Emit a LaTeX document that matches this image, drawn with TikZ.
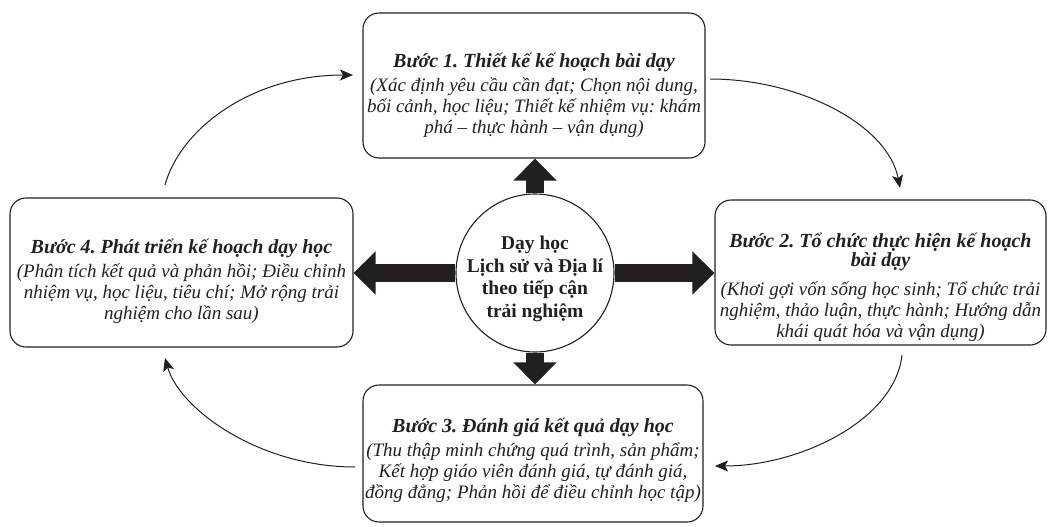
\documentclass[tikz,border=0pt]{standalone}
\usepackage{fontspec}
\setmainfont{Liberation Serif}
\usetikzlibrary{arrows.meta}
\definecolor{ink}{HTML}{231F20}
\frenchspacing
\newcommand{\steptitle}[1]{{\bfseries\fontsize{20}{21}\selectfont #1}}
\tikzset{
  stepbox/.style={draw=ink, line width=1.1pt, rounded corners=16pt, inner sep=0pt},
  steptext/.style={align=center, inner sep=0pt, text=ink,
    font=\itshape\fontsize{19}{21}\selectfont},
  hub/.style={circle, draw=ink, line width=1.1pt, minimum size=158pt, inner sep=0pt},
  hubtext/.style={align=center, inner sep=0pt, text=ink,
    font=\bfseries\fontsize{19.5}{22.5}\selectfont},
  block/.style={ink, line width=18pt, -{Triangle[width=42pt,length=22pt]}},
  flow/.style={ink, line width=1pt, -{Stealth[length=13pt,width=11pt,inset=3pt]}},
}
\begin{document}
\begin{tikzpicture}[x=1pt,y=-1pt]
\useasboundingbox (0,0) rectangle (1049,527);

\node[stepbox, minimum width=342pt, minimum height=145pt] (s1) at (534,85.5) {};
\node[steptext] (t1) at (534,95)
  {\steptitle{Bước 1. Thiết kế kế hoạch bài dạy}\\[3pt]
   (Xác định yêu cầu cần đạt; Chọn nội dung,\\
   bối cảnh, học liệu; Thiết kế nhiệm vụ: khám\\
   phá – thực hành – vận dụng)};

\node[stepbox, minimum width=331pt, minimum height=145pt] (s2) at (880.5,272.5) {};
\node[steptext] (t2) at (880.5,287)
  {\steptitle{Bước 2. Tổ chức thực hiện kế hoạch}\\[-2pt]
   \steptitle{bài dạy}\\[8pt]
   (Khơi gợi vốn sống học sinh; Tổ chức trải\\
   nghiệm, thảo luận, thực hành; Hướng dẫn\\
   khái quát hóa và vận dụng)};

\node[stepbox, minimum width=340pt, minimum height=137pt] (s3) at (533,453.5) {};
\node[steptext] (t3) at (533,460)
  {\steptitle{Bước 3. Đánh giá kết quả dạy học}\\[3pt]
   (Thu thập minh chứng quá trình, sản phẩm;\\
   Kết hợp giáo viên đánh giá, tự đánh giá,\\
   đồng đẳng; Phản hồi để điều chỉnh học tập)};

\node[stepbox, minimum width=343pt, minimum height=149pt] (s4) at (181.5,272.5) {};
\node[steptext] (t4) at (181.5,281)
  {\steptitle{Bước 4. Phát triển kế hoạch dạy học}\\[3pt]
   (Phân tích kết quả và phản hồi; Điều chỉnh\\
   nhiệm vụ, học liệu, tiêu chí; Mở rộng trải\\
   nghiệm cho lần sau)};

\node[hub] (hub) at (535,273) {};
\node[hubtext] (ht) at (535,279)
  {Dạy học\\ Lịch sử và Địa lí\\ theo tiếp cận\\ trải nghiệm};

\draw[block] (hub.north) -- (hub.north |- s1.south);
\draw[block] (hub.south) -- (hub.south |- s3.north);
\draw[block] (hub.west) -- (hub.west -| s4.east);
\draw[block] (hub.east) -- (hub.east -| s2.west);

\coordinate (c1s) at (165,185);
\coordinate (c1e) at (353,75);
\coordinate (c2s) at (710,79);
\coordinate (c2e) at (900,188);
\coordinate (c3s) at (902,355);
\coordinate (c3e) at (715,466);
\coordinate (c4s) at (355,467);
\coordinate (c4e) at (165,358);

\draw[flow] (c1s) .. controls (180,130) and (250,75) .. (c1e);
\draw[flow] (c2s) .. controls (800,79) and (888,125) .. (c2e);
\draw[flow] (c3s) .. controls (895,420) and (800,466) .. (c3e);
\draw[flow] (c4s) .. controls (260,467) and (180,410) .. (c4e);
\end{tikzpicture}
\end{document}
